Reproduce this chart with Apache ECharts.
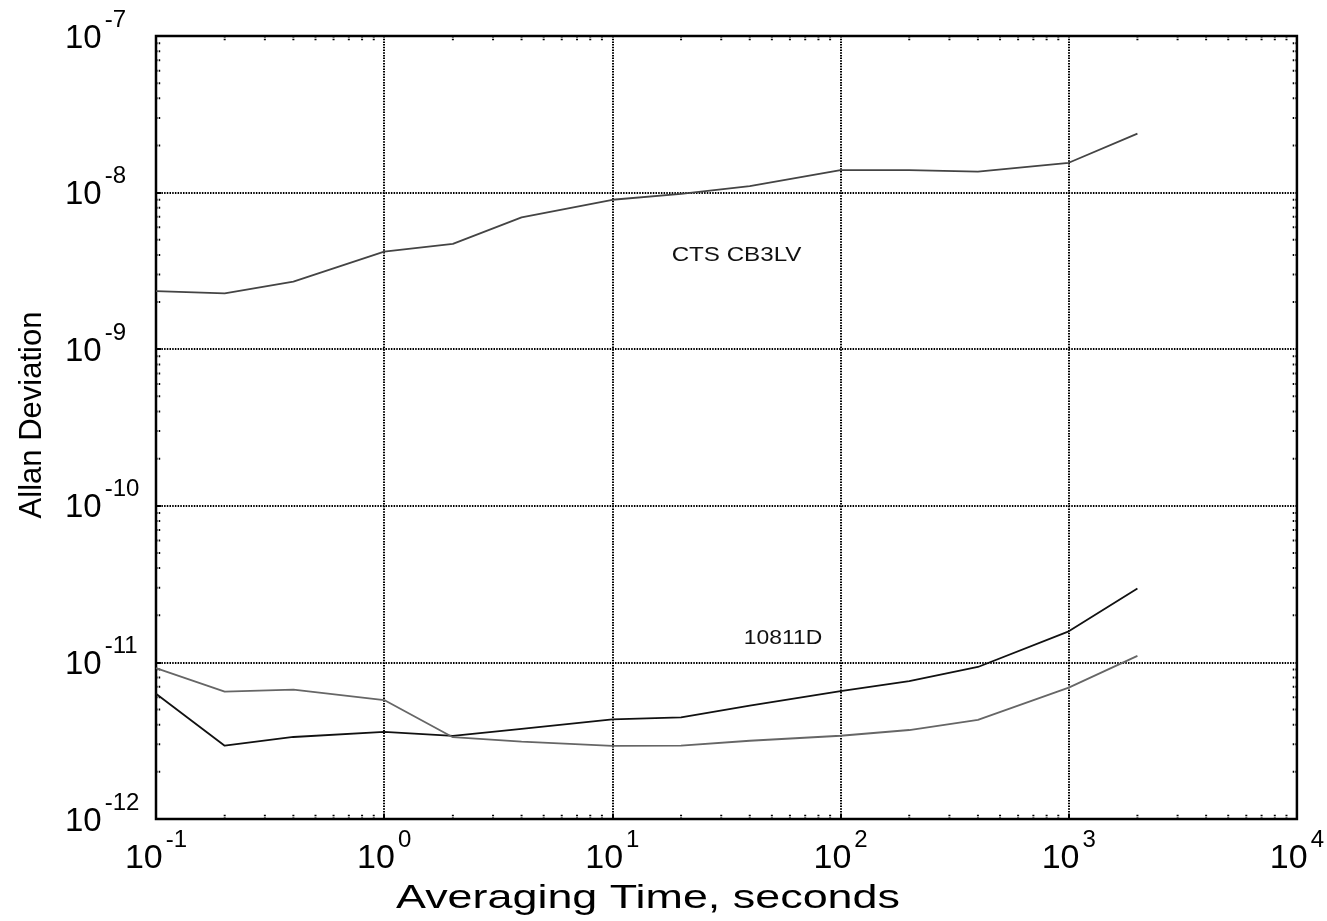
<!DOCTYPE html>
<html>
<head>
<meta charset="utf-8">
<title>Allan Deviation</title>
<script src="https://cdn.jsdelivr.net/npm/echarts@6/dist/echarts.min.js"></script>
<style>
  html, body { margin: 0; padding: 0; background: #fff; }
  #chart { width: 1327px; height: 921px; }
</style>
</head>
<body>
<div id="chart"></div>
<script>
// averaging time, seconds
var tau = [0.1, 0.2, 0.4, 1, 2, 4, 10, 20, 40, 100, 200, 400, 1000, 2000];
// CTS CB3LV
var ctsDev = [2.35e-9, 2.27e-9, 2.7e-9, 4.2e-9, 4.7e-9, 6.95e-9, 9.0e-9, 9.8e-9, 1.1e-8, 1.39e-8, 1.39e-8, 1.36e-8, 1.55e-8, 2.38e-8];
// 10811D, dark trace
var hpDevA = [6.3e-12, 2.94e-12, 3.34e-12, 3.6e-12, 3.39e-12, 3.76e-12, 4.33e-12, 4.45e-12, 5.3e-12, 6.55e-12, 7.6e-12, 9.35e-12, 1.58e-11, 2.96e-11];
// 10811D, grey trace
var hpDevB = [9.2e-12, 6.5e-12, 6.7e-12, 5.75e-12, 3.33e-12, 3.12e-12, 2.93e-12, 2.94e-12, 3.16e-12, 3.4e-12, 3.7e-12, 4.3e-12, 6.9e-12, 1.1e-11];

// tick label exponents
var xExps = ['-1', '0', '1', '2', '3', '4'];
var yExps = ['-12', '-11', '-10', '-9', '-8', '-7'];
var minorMantissa = [2, 3, 4, 5, 6, 7, 8, 9];

var FONT = '"Liberation Sans", Arial, sans-serif';

function pairs(xs, ys) {
  return xs.map(function (x, i) { return [x, ys[i]]; });
}

// minor ticks, 2..9 in every decade, on all four sides
var xMinor = [], yMinor = [];
xExps.slice(0, -1).forEach(function (e) {
  minorMantissa.forEach(function (m) { xMinor.push(m * Math.pow(10, +e)); });
});
yExps.slice(0, -1).forEach(function (e) {
  minorMantissa.forEach(function (m) { yMinor.push(m * Math.pow(10, +e)); });
});

var chart = echarts.init(document.getElementById('chart'));

var gridLine = {
  show: true,
  lineStyle: { color: '#000', width: 2, type: [1.5, 1.2] }
};

function tickRender(isX) {
  return function (params, api) {
    var cs = params.coordSys;
    var v = api.value(0);
    var len = 5;
    var style = { stroke: '#000', lineWidth: 2, lineDash: [1.5, 1.2] };
    if (isX) {
      var px = api.coord([v, 1e-12])[0];
      return {
        type: 'group',
        children: [
          { type: 'line', shape: { x1: px, y1: cs.y + cs.height, x2: px, y2: cs.y + cs.height - len }, style: style },
          { type: 'line', shape: { x1: px, y1: cs.y, x2: px, y2: cs.y + len }, style: style }
        ]
      };
    }
    var py = api.coord([1, v])[1];
    return {
      type: 'group',
      children: [
        { type: 'line', shape: { x1: cs.x, y1: py, x2: cs.x + len, y2: py }, style: style },
        { type: 'line', shape: { x1: cs.x + cs.width, y1: py, x2: cs.x + cs.width - len, y2: py }, style: style }
      ]
    };
  };
}

function supRich(base, exp) {
  return {
    b: { fontSize: base, fontFamily: FONT, color: '#000', padding: [14, 0, 0, 0] },
    e: { fontSize: exp, fontFamily: FONT, color: '#000', verticalAlign: 'top', padding: [0, 0, 0, 3] }
  };
}

var option = {
  animation: false,
  backgroundColor: '#fff',
  grid: {
    left: 156, right: 30, top: 36, bottom: 102,
    show: true, borderColor: '#000', borderWidth: 2.5, backgroundColor: 'transparent'
  },
  xAxis: {
    type: 'log', logBase: 10, min: 0.1, max: 10000,
    splitLine: gridLine,
    axisLine: { show: false },
    axisTick: { show: true, inside: true, length: 5, lineStyle: { color: '#000', width: 2 } },
    axisLabel: {
      margin: 9,
      color: '#000',
      formatter: function (v) {
        var k = Math.round(Math.log10(v)) + 1;
        return '{b|10}{e|' + xExps[k] + '}';
      },
      rich: supRich(34, 24)
    }
  },
  yAxis: {
    type: 'log', logBase: 10, min: 1e-12, max: 1e-7,
    splitLine: gridLine,
    axisLine: { show: false },
    axisTick: { show: true, inside: true, length: 5, lineStyle: { color: '#000', width: 2 } },
    axisLabel: {
      margin: 91,
      align: 'left',
      padding: [0, 0, 9, 0],
      color: '#000',
      formatter: function (v) {
        var k = Math.round(Math.log10(v)) + 12;
        return '{b|10}{e|' + yExps[k] + '}';
      },
      rich: supRich(33, 24)
    }
  },
  series: [
    {
      name: 'CTS CB3LV', type: 'line', data: pairs(tau, ctsDev),
      showSymbol: false, lineStyle: { color: '#444', width: 1.8 }, z: 5
    },
    {
      name: '10811D A', type: 'line', data: pairs(tau, hpDevA),
      showSymbol: false, lineStyle: { color: '#111', width: 1.8 }, z: 5
    },
    {
      name: '10811D B', type: 'line', data: pairs(tau, hpDevB),
      showSymbol: false, lineStyle: { color: '#666', width: 1.8 }, z: 5
    },
    {
      type: 'custom', renderItem: tickRender(true), silent: true,
      data: xMinor.map(function (v) { return [v]; }), encode: { x: 0 }, clip: false
    },
    {
      type: 'custom', renderItem: tickRender(false), silent: true,
      data: yMinor.map(function (v) { return [v]; }), encode: { y: 0 }, clip: false
    }
  ]
};

chart.setOption(option);

// annotations placed through the axes' own scales
var ctsAt = chart.convertToPixel({ gridIndex: 0 }, [35, 4.0e-9]);
var hpAt = chart.convertToPixel({ gridIndex: 0 }, [56, 1.43e-11]);

chart.setOption({
  graphic: [
    {
      type: 'text', x: ctsAt[0], y: ctsAt[1], scaleX: 1.15,
      style: { text: 'CTS CB3LV', font: '21px ' + FONT, fill: '#111', align: 'center', verticalAlign: 'middle' }
    },
    {
      type: 'text', x: hpAt[0], y: hpAt[1], scaleX: 1.09,
      style: { text: '10811D', font: '21px ' + FONT, fill: '#111', align: 'center', verticalAlign: 'middle' }
    },
    {
      type: 'text', x: 648, y: 899, scaleX: 1.36,
      style: { text: 'Averaging Time, seconds', font: '33px ' + FONT, fill: '#000', align: 'center', verticalAlign: 'middle' }
    },
    {
      type: 'text', x: 32, y: 415, rotation: Math.PI / 2,
      style: { text: 'Allan Deviation', font: '31px ' + FONT, fill: '#000', align: 'center', verticalAlign: 'middle' }
    }
  ]
});
</script>
</body>
</html>
